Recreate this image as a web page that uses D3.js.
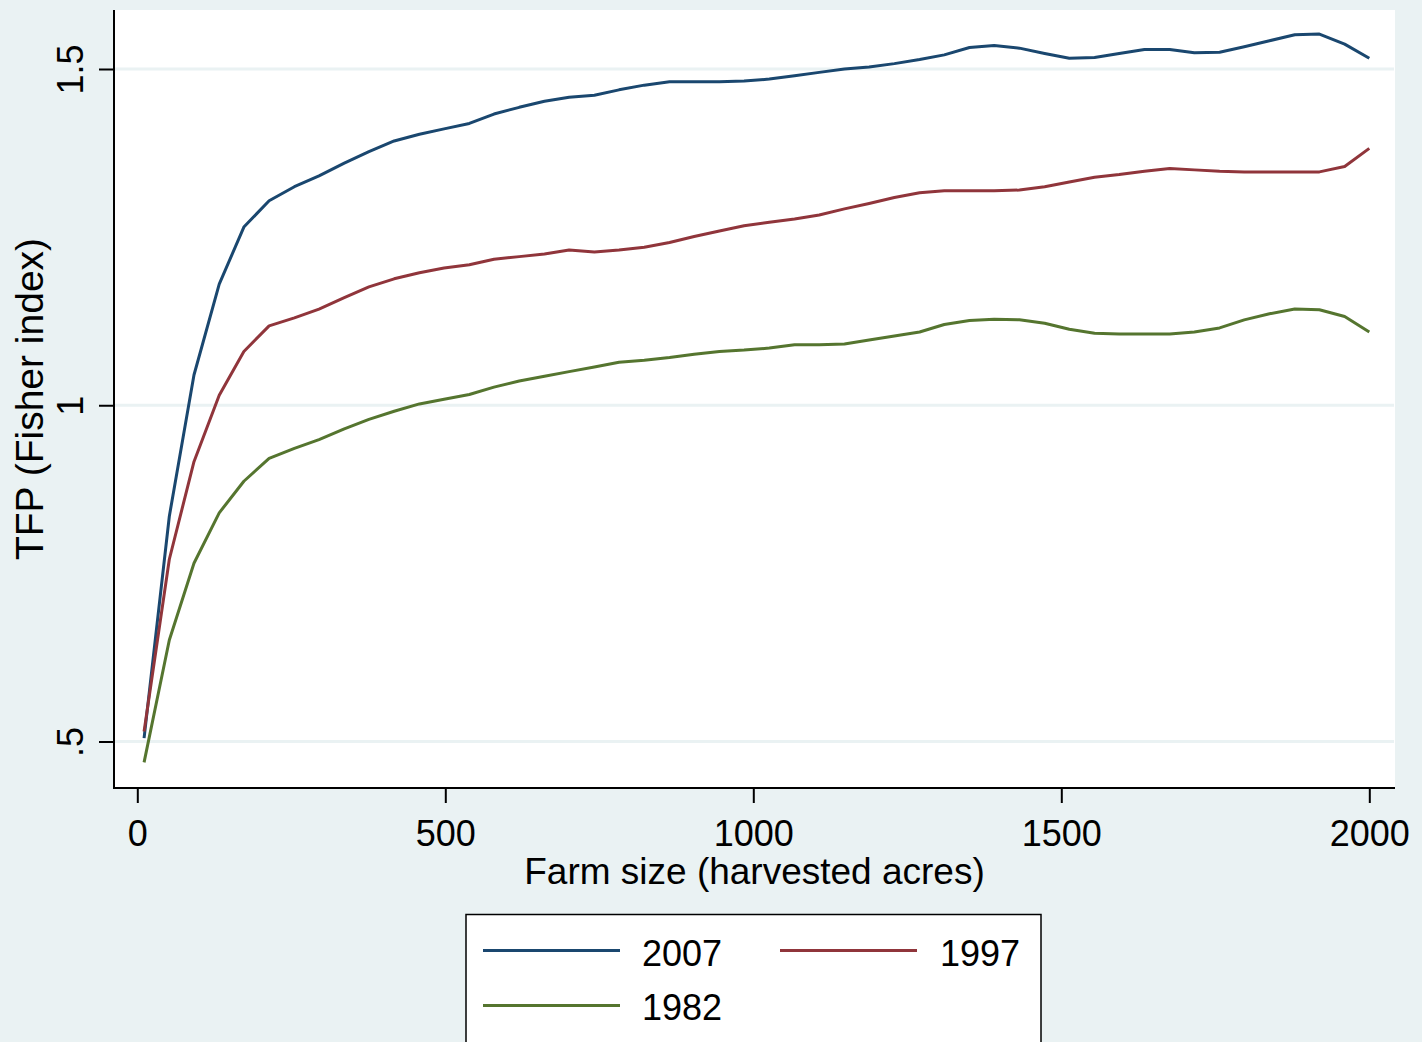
<!DOCTYPE html>
<html>
<head>
<meta charset="utf-8">
<script src="https://cdn.jsdelivr.net/npm/d3@7"></script>
<style>
  html, body { margin: 0; padding: 0; background: #EAF2F3; }
  svg { display: block; }
  text { font-family: "Liberation Sans", Arial, sans-serif; fill: #000; }
</style>
</head>
<body>
<svg id="chart" width="1422" height="1042"></svg>
<script>
// ---- Data ----
const farmSize = [11, 52, 92, 133, 173, 214, 255, 295, 336, 376, 417, 458, 498, 539, 579, 620, 661, 701, 742, 782,
  823, 864, 904, 945, 985, 1026, 1067, 1107, 1148, 1188, 1229, 1270, 1310, 1351, 1391, 1432, 1473, 1513, 1554, 1594,
  1635, 1676, 1716, 1757, 1797, 1838, 1879, 1919, 1960, 2000];

const tfp2007 = [0.505, 0.835, 1.045, 1.180, 1.265, 1.304, 1.325, 1.341, 1.360, 1.377, 1.393, 1.403, 1.411, 1.419, 1.433,
  1.443, 1.452, 1.458, 1.461, 1.469, 1.476, 1.481, 1.481, 1.481, 1.482, 1.485, 1.490, 1.495, 1.500, 1.503,
  1.508, 1.514, 1.521, 1.532, 1.535, 1.531, 1.523, 1.516, 1.517, 1.523, 1.529, 1.529, 1.524, 1.525, 1.533,
  1.542, 1.551, 1.552, 1.537, 1.516];

const tfp1997 = [0.515, 0.771, 0.916, 1.015, 1.080, 1.118, 1.130, 1.143, 1.160, 1.176, 1.188, 1.197, 1.204, 1.209, 1.217,
  1.221, 1.225, 1.231, 1.228, 1.231, 1.235, 1.242, 1.251, 1.259, 1.267, 1.272, 1.277, 1.283, 1.292, 1.300,
  1.309, 1.316, 1.319, 1.319, 1.319, 1.320, 1.325, 1.332, 1.339, 1.343, 1.348, 1.352, 1.350, 1.348, 1.347,
  1.347, 1.347, 1.347, 1.355, 1.382];

const tfp1982 = [0.469, 0.651, 0.765, 0.840, 0.887, 0.921, 0.936, 0.949, 0.965, 0.979, 0.991, 1.002, 1.009, 1.016, 1.027,
  1.036, 1.043, 1.050, 1.057, 1.064, 1.067, 1.071, 1.076, 1.080, 1.082, 1.085, 1.090, 1.090, 1.091, 1.097,
  1.103, 1.109, 1.120, 1.126, 1.128, 1.127, 1.122, 1.113, 1.107, 1.106, 1.106, 1.106, 1.109, 1.115, 1.127,
  1.136, 1.143, 1.142, 1.132, 1.109];

const xTicks = [0, 500, 1000, 1500, 2000];
const yTicks = [0.5, 1, 1.5];
const yTickLabels = [".5", "1", "1.5"];

const seriesNames = ["2007", "1997", "1982"];
const seriesValues = [tfp2007, tfp1997, tfp1982];
const colors = ["#1a476f", "#90353b", "#55752f"];

// ---- Layout ----
const svg = d3.select("#chart");
const plot = { left: 114, right: 1395, top: 10, bottom: 788 };

const x = d3.scaleLinear().domain([0, 2000]).range([137.3, 1369.3]);
const y = d3.scaleLinear().domain([0.5, 1.5]).range([741.5, 69]);

svg.append("rect").attr("x", 0).attr("y", 0).attr("width", 1422).attr("height", 1042).attr("fill", "#EAF2F3");
svg.append("rect")
  .attr("x", plot.left).attr("y", plot.top)
  .attr("width", plot.right - plot.left).attr("height", plot.bottom - plot.top)
  .attr("fill", "#ffffff");

// gridlines
svg.append("g").selectAll("line").data(yTicks).join("line")
  .attr("x1", plot.left).attr("x2", plot.right - 1)
  .attr("y1", d => y(d)).attr("y2", d => y(d))
  .attr("stroke", "#EAF2F3").attr("stroke-width", 3);

// lines
const lineGen = d3.line().x((d, i) => x(farmSize[i])).y(d => y(d));
svg.append("g").selectAll("path").data(seriesValues).join("path")
  .attr("d", d => lineGen(d))
  .attr("fill", "none")
  .attr("stroke", (d, i) => colors[i])
  .attr("stroke-width", 3)
  .attr("stroke-linejoin", "round");

// x axis
const xAxis = d3.axisBottom(x).tickValues(xTicks).tickSize(15).tickPadding(17).tickFormat(d3.format("d"));
const gx = svg.append("g").attr("transform", `translate(0,${plot.bottom})`).call(xAxis);
gx.select(".domain").remove();
gx.selectAll(".tick line").attr("stroke", "#000").attr("stroke-width", 2);
gx.selectAll(".tick text").attr("font-size", 36).attr("font-family", "Liberation Sans, Arial, sans-serif");
svg.append("line").attr("x1", plot.left - 1).attr("x2", plot.right).attr("y1", plot.bottom).attr("y2", plot.bottom)
  .attr("stroke", "#000").attr("stroke-width", 2);

// y axis
const yAxis = d3.axisLeft(y).tickValues(yTicks).tickSize(15).tickFormat((d, i) => yTickLabels[i]);
const gy = svg.append("g").attr("transform", `translate(${plot.left},0)`).call(yAxis);
gy.select(".domain").remove();
gy.selectAll(".tick line").attr("stroke", "#000").attr("stroke-width", 2);
gy.selectAll(".tick text")
  .attr("font-size", 36).attr("font-family", "Liberation Sans, Arial, sans-serif")
  .attr("x", 0).attr("dy", 0)
  .attr("text-anchor", "middle")
  .attr("transform", "translate(-31,0) rotate(-90)");
svg.append("line").attr("x1", plot.left).attr("x2", plot.left).attr("y1", plot.top).attr("y2", plot.bottom + 1)
  .attr("stroke", "#000").attr("stroke-width", 2);

// axis titles
svg.append("text").attr("x", (plot.left + plot.right) / 2).attr("y", 884)
  .attr("text-anchor", "middle").attr("font-size", 37).text("Farm size (harvested acres)");
svg.append("text").attr("transform", `translate(43,${(plot.top + plot.bottom) / 2}) rotate(-90)`)
  .attr("text-anchor", "middle").attr("font-size", 39).text("TFP (Fisher index)");

// legend
const lg = svg.append("g");
lg.append("rect").attr("x", 466).attr("y", 914.5).attr("width", 575).attr("height", 140)
  .attr("fill", "#ffffff").attr("stroke", "#000").attr("stroke-width", 1.5);
const legendPos = [
  { lx: 483, ly: 950.5, tx: 642, ty: 966 },
  { lx: 780, ly: 950.5, tx: 940, ty: 966 },
  { lx: 483, ly: 1005.5, tx: 642, ty: 1020 }
];
seriesNames.forEach((name, i) => {
  const p = legendPos[i];
  lg.append("line").attr("x1", p.lx).attr("x2", p.lx + 137).attr("y1", p.ly).attr("y2", p.ly)
    .attr("stroke", colors[i]).attr("stroke-width", 3);
  lg.append("text").attr("x", p.tx).attr("y", p.ty).attr("font-size", 36).text(name);
});
</script>
</body>
</html>
